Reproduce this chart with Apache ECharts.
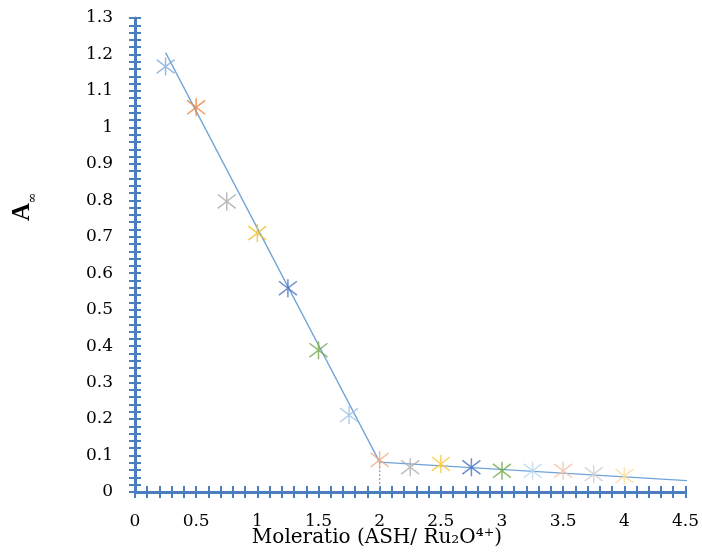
<!DOCTYPE html>
<html>
<head>
<meta charset="utf-8">
<script src="https://cdn.jsdelivr.net/npm/echarts@6/dist/echarts.min.js"></script>
<style>html,body{margin:0;padding:0;background:#fff;}#c{width:702px;height:552px;}</style>
</head>
<body>
<div id="c"></div>
<script>
// ---- data ----
const xValues = [0.25, 0.5, 0.75, 1.0, 1.25, 1.5, 1.75, 2.0, 2.25, 2.5, 2.75, 3.0, 3.25, 3.5, 3.75, 4.0];
const yValues = [1.167, 1.055, 0.797, 0.71, 0.559, 0.389, 0.211, 0.088, 0.068, 0.077, 0.068, 0.058, 0.058, 0.058, 0.049, 0.044];
const trendLine1 = [[0.25, 1.205], [2.0, 0.082]];
const trendLine2 = [[2.0, 0.082], [4.58, 0.030]];
const dropLine = [[2.0, 0.082], [2.0, 0]];
const xTicks = [0, 0.5, 1, 1.5, 2, 2.5, 3, 3.5, 4, 4.5];
const yTicks = [0, 0.1, 0.2, 0.3, 0.4, 0.5, 0.6, 0.7, 0.8, 0.9, 1, 1.1, 1.2, 1.3];
const xTitle = 'Moleratio (ASH/ Ru₂O⁴⁺)';
const yTitleMain = 'A';
const yTitleSub = '∞';

// ---- styles ----
const markerColors = ['#7FAEDC', '#E8823F', '#A9A9A9', '#F2BE2A', '#4A70C0', '#73A74B', '#9DC3E6', '#F4A77A',
  '#B0B0B0', '#FFC72C', '#4472C4', '#6AAA43', '#BDD7EE', '#F8C0A8', '#CFCFCF', '#FFDB99'];
const axisColor = '#4A7EBF';
const lineColor = '#6FA3D8';
const font = 'DejaVu Serif';

const chart = echarts.init(document.getElementById('c'));

function tickAxis(base, inside, margin) {
  return Object.assign({}, base, {
    axisLine: { show: !inside, lineStyle: { color: axisColor, width: 3 } },
    axisTick: { show: true, inside: inside, length: 6, lineStyle: { color: axisColor, width: 2 } },
    minorTick: { show: true, splitNumber: 5, length: 6, lineStyle: { color: axisColor, width: 2 } },
    splitLine: { show: false },
    minorSplitLine: { show: false },
    axisLabel: inside ? { show: false } : {
      show: true, color: '#000', fontFamily: font, fontSize: 17, margin: margin,
      formatter: v => String(Math.round(v * 10) / 10)
    }
  });
}

const xBase = { type: 'value', min: xTicks[0], max: xTicks[xTicks.length - 1], interval: 0.5, position: 'bottom' };
const yBase = { type: 'value', min: yTicks[0], max: yTicks[yTicks.length - 1], interval: 0.1, position: 'left' };

const scatterData = xValues.map((x, i) => ({
  value: [x, yValues[i]],
  itemStyle: { color: 'none', borderColor: markerColors[i], borderWidth: 1.5 }
}));

chart.setOption({
  animation: false,
  backgroundColor: '#fff',
  grid: { left: 135, right: 16, top: 18, bottom: 60, containLabel: false },
  xAxis: [tickAxis(xBase, false, 21), tickAxis(xBase, true, 21)],
  yAxis: [tickAxis(yBase, false, 22), tickAxis(yBase, true, 22)],
  series: [
    {
      type: 'line', data: trendLine1, showSymbol: false, symbol: 'none', clip: false,
      lineStyle: { color: lineColor, width: 1.3 }, z: 2
    },
    {
      type: 'line', data: trendLine2, showSymbol: false, symbol: 'none', clip: false,
      lineStyle: { color: lineColor, width: 1.3 }, z: 2
    },
    {
      type: 'line', data: dropLine, showSymbol: false, symbol: 'none',
      lineStyle: { color: lineColor, width: 1.2, type: [2, 2] }, z: 2
    },
    {
      type: 'scatter', data: scatterData, z: 3,
      symbol: 'path://M0,0L10,10M10,0L0,10M5,-1.5L5,11.5',
      symbolSize: 18
    }
  ],
  graphic: [
    {
      type: 'text', x: 377, y: 538,
      style: {
        text: xTitle, fill: '#000', font: '20px "DejaVu Serif"', align: 'center', verticalAlign: 'middle'
      }
    },
    {
      type: 'text', x: 23, y: 212, rotation: Math.PI / 2,
      style: {
        text: yTitleMain, fill: '#000', align: 'center', verticalAlign: 'middle',
        font: 'bold 25px "Liberation Serif"'
      }
    },
    {
      type: 'text', x: 33, y: 198, rotation: Math.PI / 2,
      style: {
        text: yTitleSub, fill: '#000', align: 'center', verticalAlign: 'middle',
        font: '13px "DejaVu Serif"'
      }
    }
  ]
});
</script>
</body>
</html>
